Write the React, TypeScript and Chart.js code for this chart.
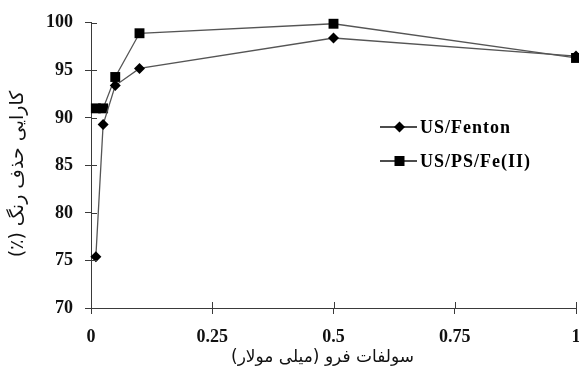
import { useEffect, useRef } from 'react';
import { Chart, registerables } from 'chart.js';

Chart.register(...registerables);

// Ferrous sulfate dose (mM) and colour removal efficiency (%)
const fentonDose = [0.01, 0.025, 0.05, 0.1, 0.5, 1];
const fentonRemoval = [75.4, 89.3, 93.4, 95.2, 98.4, 96.5];
const persulfateDose = [0.01, 0.025, 0.05, 0.1, 0.5, 1];
const persulfateRemoval = [91.0, 91.0, 94.3, 98.9, 99.9, 96.3];

const xTickValues = [0, 0.25, 0.5, 0.75, 1];
const yTickValues = [70, 75, 80, 85, 90, 95, 100];

const seriesNames = ['US/Fenton', 'US/PS/Fe(II)'];
const xTitle = 'سولفات فرو (میلی مولار)';
const yTitle = 'کارایی حذف رنگ (٪)';

const AXIS_COLOR = '#3a3a3a';
const LINE_COLOR = '#555555';
const X_TITLE_FONT = '17px "DejaVu Sans", "Noto Sans", sans-serif';
const Y_TITLE_FONT = '19px "DejaVu Sans", "Noto Sans", sans-serif';
const LEGEND_FONT = 'bold 18px "Liberation Serif", "Times New Roman", serif';

// Tick marks that cross the axis line (the outer half comes from the grid)
const innerTicks = {
  id: 'innerTicks',
  afterDraw(chart: any) {
    const { ctx, chartArea, scales } = chart;
    ctx.save();
    ctx.strokeStyle = AXIS_COLOR;
    ctx.lineWidth = 1;
    ctx.beginPath();
    for (const v of xTickValues) {
      const x = Math.round(scales.x.getPixelForValue(v)) + 0.5;
      ctx.moveTo(x, chartArea.bottom);
      ctx.lineTo(x, chartArea.bottom - 6);
    }
    for (const v of yTickValues) {
      const y = Math.round(scales.y.getPixelForValue(v)) + 0.5;
      ctx.moveTo(chartArea.left, y);
      ctx.lineTo(chartArea.left + 6, y);
    }
    ctx.stroke();
    ctx.restore();
  },
};

// Axis titles in Persian
const axisTitles = {
  id: 'axisTitles',
  afterDraw(chart: any) {
    const { ctx, chartArea } = chart;
    ctx.save();
    ctx.fillStyle = '#111';
    ctx.textAlign = 'center';
    ctx.textBaseline = 'middle';
    ctx.direction = 'rtl';
    ctx.font = X_TITLE_FONT;
    ctx.fillText(xTitle, (chartArea.left + chartArea.right) / 2 - 11, 358);
    ctx.font = Y_TITLE_FONT;
    ctx.translate(18, 174);
    ctx.rotate(-Math.PI / 2);
    ctx.fillText(yTitle, 0, 0);
    ctx.restore();
  },
};

// Legend drawn inside the plot area
const insideLegend = {
  id: 'insideLegend',
  afterDraw(chart: any) {
    const { ctx } = chart;
    const x0 = 380;
    const x1 = 417;
    const rows = [127, 161];
    ctx.save();
    rows.forEach((y, i) => {
      ctx.strokeStyle = '#111';
      ctx.lineWidth = 1.3;
      ctx.beginPath();
      ctx.moveTo(x0, y);
      ctx.lineTo(x1, y);
      ctx.stroke();
      ctx.fillStyle = '#000';
      const cx = (x0 + x1) / 2 + 1;
      ctx.beginPath();
      if (i === 0) {
        ctx.moveTo(cx, y - 5.5);
        ctx.lineTo(cx + 5.5, y);
        ctx.lineTo(cx, y + 5.5);
        ctx.lineTo(cx - 5.5, y);
        ctx.closePath();
      } else {
        ctx.rect(cx - 5, y - 5, 10, 10);
      }
      ctx.fill();
      ctx.font = LEGEND_FONT;
      ctx.textAlign = 'left';
      ctx.textBaseline = 'middle';
      (ctx as any).letterSpacing = '1px';
      ctx.fillText(seriesNames[i], 420, y + 1);
    });
    ctx.restore();
  },
};

export default function App() {
  const canvasRef = useRef<HTMLCanvasElement | null>(null);

  useEffect(() => {
    const canvas = canvasRef.current;
    if (!canvas) return;
    const chart = new Chart(canvas, {
      type: 'line',
      data: {
        datasets: [
          {
            label: seriesNames[0],
            data: fentonDose.map((x, i) => ({ x, y: fentonRemoval[i] })),
            borderColor: LINE_COLOR,
            borderWidth: 1.3,
            pointStyle: 'rectRot',
            pointRadius: 5.5,
            pointBackgroundColor: '#000',
            pointBorderColor: '#000',
            pointBorderWidth: 0,
            tension: 0,
            clip: false,
          },
          {
            label: seriesNames[1],
            data: persulfateDose.map((x, i) => ({ x, y: persulfateRemoval[i] })),
            borderColor: LINE_COLOR,
            borderWidth: 1.3,
            pointStyle: 'rect',
            pointRadius: 7,
            pointBackgroundColor: '#000',
            pointBorderColor: '#000',
            pointBorderWidth: 0,
            tension: 0,
            clip: false,
          },
        ],
      },
      options: {
        responsive: false,
        animation: false,
        devicePixelRatio: 1,
        layout: { autoPadding: false, padding: { top: 19, right: 3, left: 0, bottom: 0 } },
        plugins: {
          legend: { display: false },
          tooltip: { enabled: false },
        },
        scales: {
          x: {
            type: 'linear',
            min: 0,
            max: 1,
            afterBuildTicks: (scale: any) => {
              scale.ticks = xTickValues.map((value) => ({ value }));
            },
            afterFit: (scale: any) => {
              scale.height = 62;
              scale.paddingLeft = 0;
              scale.paddingRight = 0;
            },
            ticks: {
              color: '#111',
              font: { family: '"Liberation Serif", serif', size: 18, weight: 'bold' },
              padding: 13,
              maxRotation: 0,
              callback: (v: any) => String(v),
            },
            grid: {
              display: true,
              drawOnChartArea: false,
              drawTicks: true,
              tickLength: 6,
              color: AXIS_COLOR,
            },
            border: { display: true, color: AXIS_COLOR, width: 1 },
          },
          y: {
            type: 'linear',
            min: 70,
            max: 100,
            afterBuildTicks: (scale: any) => {
              scale.ticks = yTickValues.map((value) => ({ value }));
            },
            afterFit: (scale: any) => {
              scale.width = 91;
            },
            ticks: {
              color: '#111',
              font: { family: '"Liberation Serif", serif', size: 18, weight: 'bold' },
              padding: 12,
            },
            grid: {
              display: true,
              drawOnChartArea: false,
              drawTicks: true,
              tickLength: 6,
              color: AXIS_COLOR,
            },
            border: { display: true, color: AXIS_COLOR, width: 1 },
          },
        },
      },
      plugins: [innerTicks, axisTitles, insideLegend],
    });
    return () => chart.destroy();
  }, []);

  return (
    <div style={{ position: 'fixed', left: 0, top: 0, width: 579, height: 370, background: '#fff' }}>
      <canvas ref={canvasRef} width={579} height={370} style={{ display: 'block' }} />
    </div>
  );
}
